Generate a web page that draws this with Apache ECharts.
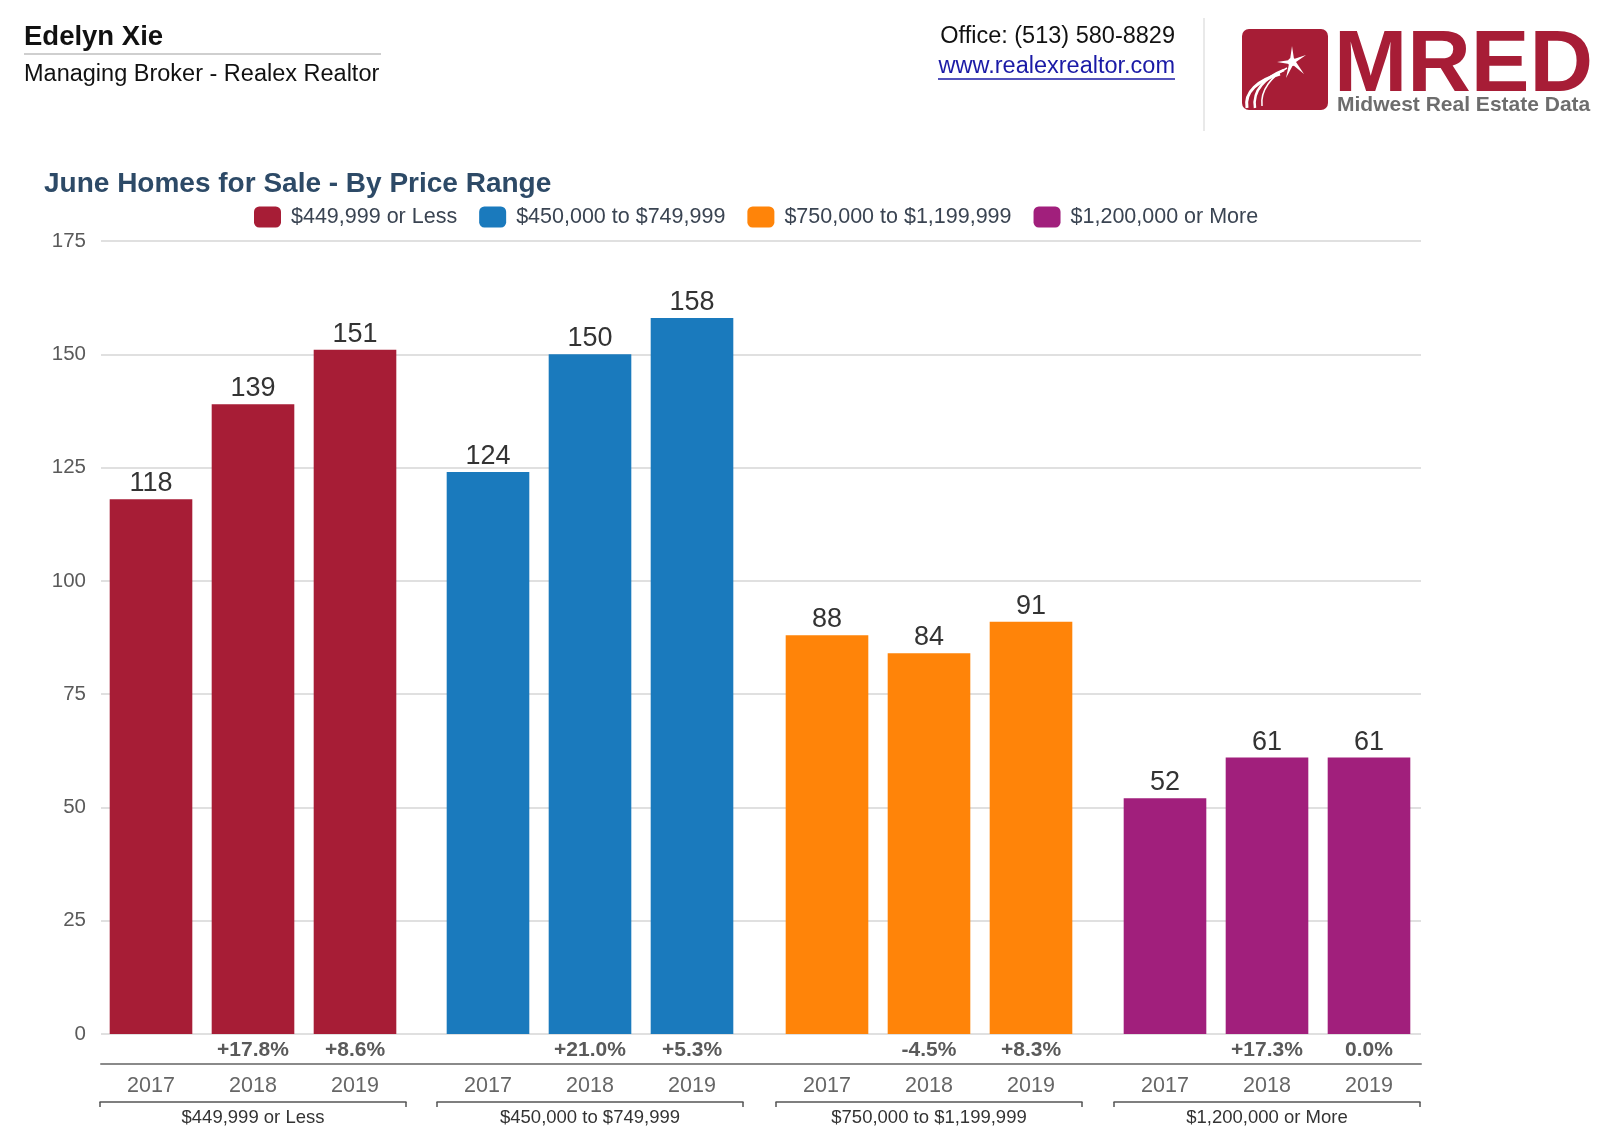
<!DOCTYPE html>
<html>
<head>
<meta charset="utf-8">
<script src="https://cdn.jsdelivr.net/npm/echarts@6/dist/echarts.min.js"></script>
<style>
html,body{margin:0;padding:0;background:#fff;}
#chart{width:1600px;height:1134px;}
</style>
</head>
<body>
<div id="chart"></div>
<script>
var years = ['2017', '2018', '2019'];
var ranges = ['$449,999 or Less', '$450,000 to $749,999', '$750,000 to $1,199,999', '$1,200,000 or More'];
var values449 = [118, 139, 151];
var values450 = [124, 150, 158];
var values750 = [88, 84, 91];
var values1200 = [52, 61, 61];
var pct449 = ['', '+17.8%', '+8.6%'];
var pct450 = ['', '+21.0%', '+5.3%'];
var pct750 = ['', '-4.5%', '+8.3%'];
var pct1200 = ['', '+17.3%', '0.0%'];
var yTicks = [0, 25, 50, 75, 100, 125, 150, 175];

var colors = ['#a71d36', '#1a7abd', '#ff8409', '#a11f7c'];
var allValues = [values449, values450, values750, values1200];
var allPct = [pct449, pct450, pct750, pct1200];
var groupLefts = [100, 437, 776, 1114];
var FONT = '"Liberation Sans", Arial, sans-serif';
var TOP = 241, BOTTOM = 100;

var grids = [{left: 101, right: 179, top: TOP, bottom: BOTTOM, outerBoundsMode: 'none', containLabel: false}];
var xAxes = [{
  type: 'category', gridIndex: 0, data: years, offset: 30,
  axisLine: {show: true, onZero: false, lineStyle: {color: '#8a8a8a', width: 2}},
  axisTick: {show: false}, axisLabel: {show: false}, splitLine: {show: false}
}];
var yAxes = [{
  type: 'value', gridIndex: 0, min: yTicks[0], max: yTicks[yTicks.length - 1], interval: 25,
  axisLine: {show: false}, axisTick: {show: false},
  axisLabel: {color: '#5a5a5a', fontSize: 20.5, fontFamily: FONT, margin: 15},
  splitLine: {lineStyle: {color: '#e0e0e0', width: 2}}
}];
var series = [];

for (var i = 0; i < 4; i++) {
  grids.push({left: groupLefts[i], width: 306, top: TOP, bottom: BOTTOM, outerBoundsMode: 'none', containLabel: false});
  var g = i + 1;
  (function (pcts) {
    xAxes.push({
      type: 'category', gridIndex: g, data: years, position: 'bottom', offset: 0,
      axisLine: {show: false, onZero: false}, axisTick: {show: false},
      axisLabel: {
        margin: 6, fontSize: 21, fontWeight: 'bold', color: '#5a5a5a', fontFamily: FONT,
        formatter: function (v, idx) { return pcts[idx]; }
      }
    });
  })(allPct[i]);
  var yearAxisIndex = xAxes.length;
  xAxes.push({
    type: 'category', gridIndex: g, data: years, position: 'bottom', offset: 30,
    axisLine: {show: false, onZero: false}, axisTick: {show: false},
    axisLabel: {margin: 11, fontSize: 21.5, color: '#666', fontFamily: FONT}
  });
  xAxes.push({
    type: 'value', gridIndex: g, min: 0, max: 1, interval: 1, position: 'bottom', offset: 68,
    axisLine: {show: true, onZero: false, lineStyle: {color: '#555', width: 1.5}},
    axisTick: {show: true, inside: false, length: 5, lineStyle: {color: '#555', width: 1.5}},
    axisLabel: {show: false}, splitLine: {show: false},
    name: ranges[i], nameLocation: 'middle', nameGap: 6,
    nameTextStyle: {fontSize: 18.5, color: '#333', fontFamily: FONT}
  });
  yAxes.push({
    type: 'value', gridIndex: g, min: 0, max: 175, interval: 25, show: false,
    splitLine: {show: false}
  });
  series.push({
    name: ranges[i], type: 'bar', xAxisIndex: yearAxisIndex, yAxisIndex: g,
    data: allValues[i], barWidth: '81%',
    itemStyle: {color: colors[i]},
    label: {show: true, position: 'top', distance: 2, fontSize: 27, color: '#333', fontFamily: FONT}
  });
}

var chart = echarts.init(document.getElementById('chart'));
chart.setOption({
  backgroundColor: '#fff',
  animation: false,
  color: colors,
  title: {
    text: 'June Homes for Sale - By Price Range', left: 39, top: 165,
    textStyle: {fontSize: 28, fontWeight: 'bold', color: '#2d4a67', fontFamily: FONT}
  },
  legend: {
    data: ranges, left: 254, top: 206, padding: 0, itemWidth: 27, itemHeight: 21, itemGap: 22,
    icon: 'roundRect',
    textStyle: {fontSize: 21.5, color: '#3a4452', fontFamily: FONT, padding: [0, 0, 0, 5]}
  },
  grid: grids,
  xAxis: xAxes,
  yAxis: yAxes,
  series: series,
  graphic: [
    {type: 'text', left: 24, top: 23, style: {text: 'Edelyn Xie', font: 'bold 27.5px ' + FONT, fill: '#111'}},
    {type: 'line', shape: {x1: 24, y1: 54, x2: 381, y2: 54}, style: {stroke: '#cfcfcf', lineWidth: 2}},
    {type: 'text', left: 24, top: 63, style: {text: 'Managing Broker - Realex Realtor', font: '23.5px ' + FONT, fill: '#111'}},
    {type: 'text', right: 425, top: 25, style: {text: 'Office: (513) 580-8829', font: '23.5px ' + FONT, fill: '#111'}},
    {type: 'text', right: 425, top: 55, style: {text: 'www.realexrealtor.com', font: '23.5px ' + FONT, fill: '#1a1aa6'}},
    {type: 'line', shape: {x1: 938, y1: 79, x2: 1175, y2: 79}, style: {stroke: '#1a1aa6', lineWidth: 1.5}},
    {type: 'line', shape: {x1: 1204, y1: 18, x2: 1204, y2: 131}, style: {stroke: '#e2e2e2', lineWidth: 1.5}},
    {type: 'rect', shape: {x: 1242, y: 29, width: 86, height: 81, r: 7}, style: {fill: '#a71d36'}},
    {type: 'bezierCurve', shape: {x1: 1247, y1: 108, x2: 1280, y2: 74, cpx1: 1244, cpy1: 92, cpx2: 1258, cpy2: 80}, style: {stroke: '#fff', lineWidth: 3, fill: null}},
    {type: 'bezierCurve', shape: {x1: 1255, y1: 108, x2: 1284, y2: 70, cpx1: 1252, cpy1: 90, cpx2: 1266, cpy2: 77}, style: {stroke: '#fff', lineWidth: 2.5, fill: null}},
    {type: 'bezierCurve', shape: {x1: 1262, y1: 106, x2: 1287, y2: 68, cpx1: 1260, cpy1: 90, cpx2: 1272, cpy2: 76}, style: {stroke: '#fff', lineWidth: 1.5, fill: null}},
    {type: 'polygon', shape: {points: [[1292, 46], [1294, 59], [1306, 55], [1296, 62], [1304, 74], [1293, 65], [1286, 78], [1289, 64], [1277, 62], [1290, 60]]}, style: {fill: '#fff'}},
    {type: 'circle', shape: {cx: 1292, cy: 62, r: 4}, style: {fill: '#fff'}},
    {type: 'text', left: 1334, top: 23, style: {text: 'MRED', font: 'bold 88px ' + FONT, fill: '#a71d36'}},
    {type: 'text', left: 1337, top: 95, style: {text: 'Midwest Real Estate Data', font: 'bold 21px ' + FONT, fill: '#6d6d6d'}}
  ]
});
</script>
</body>
</html>
